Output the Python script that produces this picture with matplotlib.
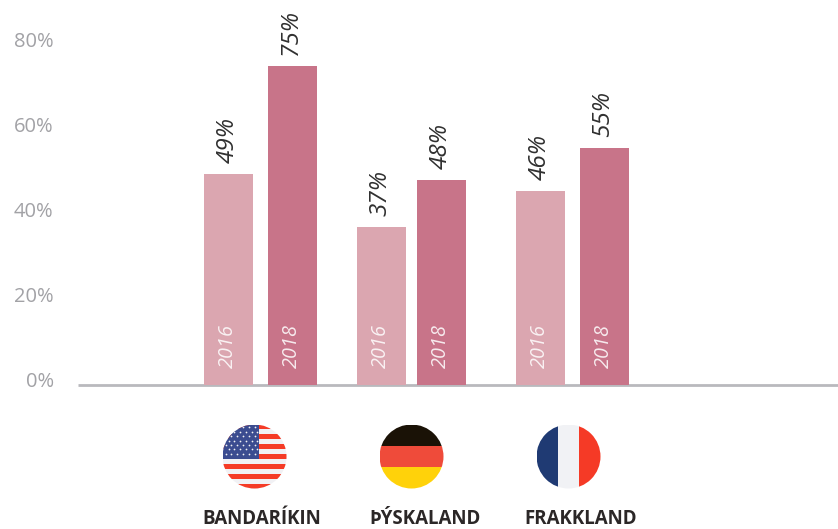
import matplotlib
matplotlib.use('Agg')
import matplotlib.pyplot as plt
from matplotlib.patches import Circle, Rectangle
from matplotlib.transforms import ScaledTranslation

countries = ['BANDARÍKIN', 'ÞÝSKALAND', 'FRAKKLAND']
years = ['2016', '2018']
bars_2016 = [49.6, 37.2, 45.6]
bars_2018 = [75, 48.2, 55.8]
labels_2016 = ['49%', '37%', '46%']
labels_2018 = ['75%', '48%', '55%']
y_ticks = [0, 20, 40, 60, 80]

W, H = 838, 529
BASE = 385.2      # y pixel of the zero line
PX_PER_UNIT = 4.25
BAR_W = 49
left_2016 = [204, 357, 516]
left_2018 = [268, 417, 580]
flag_x = [254.5, 411.5, 568.5]
name_x = [262, 425, 581]
FLAG_Y, FLAG_R = 456.5, 32

plt.rcParams['font.family'] = ['Open Sans', 'DejaVu Sans']

fig = plt.figure(figsize=(W / 100, H / 100), dpi=100)
ax = fig.add_axes([78 / W, (H - BASE) / H, (W - 78) / W, BASE / H])
ax.set_xlim(78, W)
ax.set_ylim(0, BASE / PX_PER_UNIT)
ax.patch.set_visible(False)

for s in ['top', 'left', 'right']:
    ax.spines[s].set_visible(False)
ax.spines['bottom'].set_color('#b9b9bd')
ax.spines['bottom'].set_linewidth(2.0)
ax.spines['bottom'].set_capstyle('butt')

ax.set_xticks([])
ax.set_yticks(y_ticks)
ax.set_yticklabels([f'{t}%' for t in y_ticks], fontsize=14.5, color='#a2a2a6')
ax.tick_params(axis='y', length=0, pad=17.5)
shift = ScaledTranslation(0, 5.5 / 100, fig.dpi_scale_trans)
for lab in ax.get_yticklabels():
    lab.set_transform(lab.get_transform() + shift)

series = [(left_2016, bars_2016, labels_2016, '#dba6b0', years[0]),
          (left_2018, bars_2018, labels_2018, '#c87489', years[1])]
for lefts, vals, labs, col, yr in series:
    centers = [x + BAR_W / 2 for x in lefts]
    ax.bar(centers, vals, width=BAR_W, color=col, zorder=3, clip_on=False)
    for c, v, lab in zip(centers, vals, labs):
        ax.annotate(lab, xy=(c, v), xytext=(-0.8, 8.2), textcoords='offset points',
                    rotation=90, ha='center', va='bottom', fontsize=17.5,
                    style='italic', color='#303030', annotation_clip=False)
        ax.annotate(yr, xy=(c, 0), xytext=(-0.5, 12.5), textcoords='offset points',
                    rotation=90, ha='center', va='bottom', fontsize=14.3,
                    style='italic', color='#ffffff', alpha=0.85, zorder=4)


def flag_axes(cx):
    a = fig.add_axes([(cx - FLAG_R) / W, (H - FLAG_Y - FLAG_R) / H,
                      2 * FLAG_R / W, 2 * FLAG_R / H])
    a.set_xlim(0, 1)
    a.set_ylim(0, 1)
    a.axis('off')
    clip = Circle((0.5, 0.5), 0.5, transform=a.transData)
    return a, clip


def stripes(a, clip, rects):
    for x, y, w, h, col in rects:
        a.add_patch(Rectangle((x, y), w, h, color=col, lw=0, clip_path=clip))


# usa
a, clip = flag_axes(flag_x[0])
usa = [(0, 0, 1, 1, '#f1f1f4')]
for i in range(0, 13, 2):
    usa.append((0, 1 - (i + 1) / 13, 1, 1 / 13, '#f53b26'))
usa.append((0, 6 / 13, 0.57, 7 / 13, '#3b4c90'))
stripes(a, clip, usa)
star_x, star_y = [], []
for row in range(7):
    for col in range(6):
        star_x.append(0.05 + col * 0.09 + (row % 2) * 0.045)
        star_y.append(0.96 - row * 0.07)
pts = a.scatter(star_x, star_y, s=1.6, color='#f1f1f4', lw=0)
pts.set_clip_path(Circle((0.5, 0.5), 0.5, transform=a.transData))

# germany
a, clip = flag_axes(flag_x[1])
stripes(a, clip, [(0, 2 / 3, 1, 1 / 3, '#1a1206'),
                  (0, 1 / 3, 1, 1 / 3, '#ef4b3a'),
                  (0, 0, 1, 1 / 3, '#ffd20a')])

# france
a, clip = flag_axes(flag_x[2])
stripes(a, clip, [(0, 0, 1 / 3, 1, '#1f3a73'),
                  (1 / 3, 0, 1 / 3, 1, '#f1f2f5'),
                  (2 / 3, 0, 1 / 3, 1, '#f53a26')])

for x, name in zip(name_x, countries):
    fig.text(x / W, 1 - 519.5 / H, name, ha='center', va='center', fontsize=13.5,
             fontweight='bold', color='#2b2727')

fig.savefig('out.png', dpi=100)
